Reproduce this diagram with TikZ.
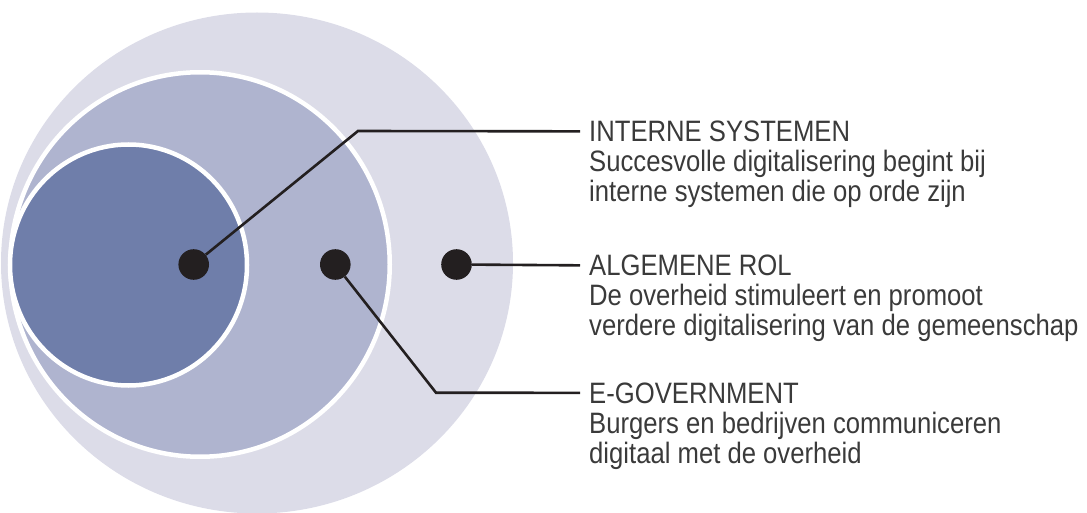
\documentclass[tikz,border=0pt]{standalone}
\usepackage{fontspec}
\setmainfont{Liberation Sans}[FakeStretch=0.87]
\usetikzlibrary{calc}
\definecolor{ringout}{HTML}{DCDCE8}
\definecolor{ringmid}{HTML}{AFB4CF}
\definecolor{ringin}{HTML}{6F7EAA}
\definecolor{inkdark}{HTML}{231F20}
\definecolor{textgrey}{HTML}{3A3A3A}
\tikzstyle{ring} = [draw=white, line width=4.5pt]
\tikzstyle{dot} = [circle, fill=inkdark, minimum size=30.6pt, inner sep=0pt]
\tikzstyle{leader} = [draw=inkdark, line width=2.6pt]
\tikzstyle{heading} = [anchor=base west, inner xsep=9pt, inner ysep=0pt, text=textgrey, %
font=\fontsize{29.5pt}{30pt}\selectfont]
\tikzstyle{blurb} = [heading, align=left]

\begin{document}
\begin{tikzpicture}[x=1pt, y=-1pt]
    \useasboundingbox (0,0) rectangle (1087,513);
    % rings
    \fill[ringout] (257,263) ellipse [x radius=256, y radius=250.5];
    \path[ring, fill=ringmid] (200,264.5) ellipse [x radius=189.75, y radius=192.25];
    \path[ring, fill=ringin] (128.5,265) ellipse [x radius=118.5, y radius=120.5];
    % dots and bends
    \node[dot] (dotin) at (193.7,264.5) {};
    \node[dot] (dotmid) at (335.3,264.5) {};
    \node[dot] (dotout) at (456.5,264.5) {};
    \coordinate (bendin) at (358,131);
    \coordinate (bendmid) at (436,392.7);
    % labels (blurb base = last line)
    \node[heading] (headin) at (580,141.5) {INTERNE SYSTEMEN};
    \node[blurb] (blurbin) at ($(headin.base west)+(0,60)$) {Succesvolle digitalisering begint bij\\interne systemen die op orde zijn};
    \node[heading] (headout) at (580,275.5) {ALGEMENE ROL};
    \node[blurb] (blurbout) at ($(headout.base west)+(0,60)$) {De overheid stimuleert en promoot\\verdere digitalisering van de gemeenschap};
    \node[heading] (headmid) at (580,403) {E-GOVERNMENT};
    \node[blurb] (blurbmid) at ($(headmid.base west)+(0,60)$) {Burgers en bedrijven communiceren\\digitaal met de overheid};
    % draw leaders
    \path[leader] (dotin) -- (bendin) -- (headin.west);
    \path[leader] (dotout) -- (headout.west);
    \path[leader] (dotmid) -- (bendmid) -- (headmid.west);
\end{tikzpicture}
\end{document}
